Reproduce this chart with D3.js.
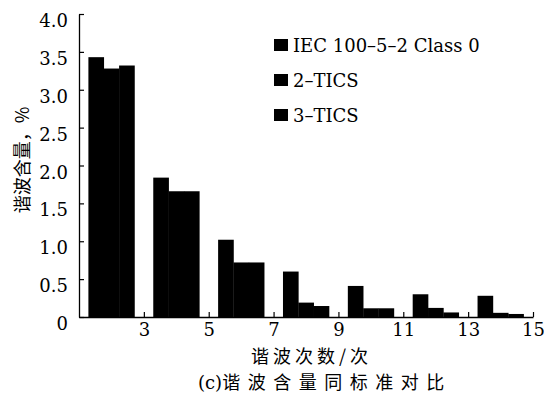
<!DOCTYPE html>
<html><head><meta charset="utf-8">
<script src="https://cdn.jsdelivr.net/npm/d3@7"></script>
<style>body{margin:0;background:#fff}svg{display:block}</style>
</head><body>
<script>
// Data
const groupPos = [2, 4, 6, 8, 10, 12, 14];
const seriesNames = ["IEC 100\u20135\u20132 Class 0", "2\u2013TICS", "3\u2013TICS"];
const iec  = [3.43, 1.84, 1.02, 0.60, 0.41, 0.30, 0.28];
const tics2 = [3.28, 1.66, 0.72, 0.19, 0.115, 0.12, 0.055];
const tics3 = [3.32, 1.66, 0.72, 0.145, 0.115, 0.06, 0.04];
const xTicks = [3, 5, 7, 9, 11, 13, 15];
const yTicks = [0, 0.5, 1.0, 1.5, 2.0, 2.5, 3.0, 3.5, 4.0];
const yTickLabels = ["0", "0.5", "1.0", "1.5", "2.0", "2.5", "3.0", "3.5", "4.0"];

const W = 544, H = 396;
const serif = "'DejaVu Serif', 'Liberation Serif', serif";
const cjk = "'Noto Sans CJK SC', sans-serif";

const svg = d3.select("body").append("svg").attr("width", W).attr("height", H);

const x = d3.scaleLinear().domain([1, 15]).range([79, 533]);
const y = d3.scaleLinear().domain([0, 4]).range([317, 14]);

const groupW = 1.42;
const inner = d3.scaleBand().domain([0, 1, 2]).range([-groupW / 2, groupW / 2]).padding(0);
const series = [iec, tics2, tics3];

// bars
series.forEach((vals, si) => {
  svg.append("g").selectAll("rect").data(vals).join("rect")
    .attr("x", (d, i) => x(groupPos[i] + inner(si)))
    .attr("width", x(inner.bandwidth() + 1) - x(1) + 0.3)
    .attr("y", d => y(d))
    .attr("height", d => y(0) - y(d))
    .attr("fill", "#000");
});

// axes
const xAxis = d3.axisBottom(x).tickValues(xTicks).tickSizeInner(-5).tickSizeOuter(0).tickFormat(d3.format("d"));
const gx = svg.append("g").attr("transform", `translate(0,${y(0)})`).call(xAxis);
gx.select(".domain").attr("stroke", "#000").attr("stroke-width", 1.3);
gx.selectAll(".tick line").attr("stroke", "#000").attr("stroke-width", 1.2);
gx.selectAll(".tick text").attr("font-family", serif).attr("font-size", 18).attr("fill", "#000").attr("dy", "0.9em").attr("y", 3);

const yAxis = d3.axisLeft(y).tickValues(yTicks).tickSizeInner(-5).tickSizeOuter(0)
  .tickFormat((d, i) => yTickLabels[i]);
const gy = svg.append("g").attr("transform", `translate(${x(1)},0)`).call(yAxis);
gy.select(".domain").attr("stroke", "#000").attr("stroke-width", 1.3);
gy.selectAll(".tick line").attr("stroke", "#000").attr("stroke-width", 1.2);
gy.selectAll(".tick text").attr("font-family", serif).attr("font-size", 18).attr("fill", "#000")
  .attr("x", -11).attr("dy", "0.7em").attr("text-anchor", "end");

// legend
const legY = [45, 80, 115];
const leg = svg.append("g");
seriesNames.forEach((name, i) => {
  leg.append("rect").attr("x", 274).attr("y", legY[i] - 6).attr("width", 14).attr("height", 12).attr("fill", "#000");
  leg.append("text").attr("x", 293).attr("y", legY[i] + 6.5).attr("font-family", serif).attr("font-size", 18)
    .attr("fill", "#000").text(name);
});

// titles
svg.append("text").attr("transform", "translate(29,160) rotate(-90)").attr("text-anchor", "middle")
  .attr("font-family", cjk).attr("font-size", 18).attr("fill", "#000").text("谐波含量，%");
svg.append("text").attr("x", 251).attr("y", 363)
  .attr("font-family", cjk).attr("font-size", 18).attr("letter-spacing", 4).attr("fill", "#000").text("谐波次数/次");
const cap = svg.append("text").attr("x", 198).attr("y", 389).attr("fill", "#000");
cap.append("tspan").attr("font-family", serif).attr("font-size", 18).text("(c)");
cap.append("tspan").attr("font-family", cjk).attr("font-size", 18).attr("letter-spacing", 7.5).text("谐波含量同标准对比");
</script>
</body></html>
